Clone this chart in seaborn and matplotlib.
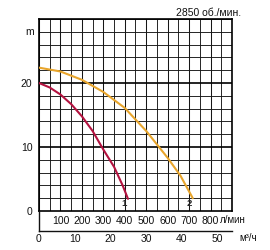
import matplotlib
matplotlib.use("Agg")
import matplotlib.pyplot as plt
import seaborn as sns
import pandas as pd
import numpy as np

sns.set_style("white")
plt.rcParams['font.family'] = ['Liberation Sans', 'DejaVu Sans']

# data (flow in l/min, head in m)
flow_1 = [0, 50, 100, 150, 200, 250, 300, 350, 390, 415]
head_1 = [20.0, 19.3, 18.2, 16.7, 14.8, 12.5, 9.6, 6.9, 4.0, 1.9]
flow_2 = [0, 100, 200, 300, 400, 500, 600, 660, 717]
head_2 = [22.4, 21.8, 20.5, 18.6, 16.1, 12.5, 8.3, 5.5, 2.0]
lpm_ticks = [100, 200, 300, 400, 500, 600, 700, 800]
m3h_ticks = [0, 10, 20, 30, 40, 50]
y_ticks = [0, 10, 20]
title = "2850 об./мин."

df = pd.concat([
    pd.DataFrame({"flow": flow_1, "head": head_1, "curve": "1"}),
    pd.DataFrame({"flow": flow_2, "head": head_2, "curve": "2"}),
])

FS = 7.5
fig = plt.figure(figsize=(2.7, 2.5), dpi=100)
W, H = 270, 250
ax = fig.add_axes([39 / W, (H - 211) / H, 193 / W, 192 / H])

ax.set_xlim(0, 900)
ax.set_ylim(0, 30)
ax.set_xticks(np.arange(0, 901, 100))
ax.set_xticks(np.arange(0, 901, 50), minor=True)
ax.set_yticks(np.arange(0, 31, 2), minor=True)
ax.set_yticks(y_ticks)
ax.set_yticklabels([str(v) for v in y_ticks])
ax.set_xticklabels([str(v) if v in lpm_ticks else "" for v in range(0, 901, 100)])
ax.grid(which="minor", color="#161616", lw=0.65)
ax.grid(which="major", axis="x", color="#161616", lw=0.75)
for v in [10, 20]:
    ax.axhline(v, color="#000000", lw=1.2, zorder=1)
ax.tick_params(axis="both", which="both", length=0, labelsize=FS, colors="#111111")
ax.tick_params(axis="x", pad=3.5)
ax.tick_params(axis="y", pad=4.8)
for s in ax.spines.values():
    s.set_color("#000000")
    s.set_linewidth(1.2)

sns.lineplot(data=df, x="flow", y="head", hue="curve",
             palette={"1": "#b3123f", "2": "#e8a52c"}, lw=1.5,
             legend=False, ax=ax, zorder=3, sort=False)
ax.set_xlabel("")
ax.set_ylabel("")

ax.text(-0.024, 28, "m", transform=ax.get_yaxis_transform(), fontsize=FS,
        ha="right", va="center", color="#111111")
ax.text(flow_1[-1] - 18, 1.2, "1", fontsize=6.8, fontweight="bold", ha="center", va="center")
ax.text(flow_2[-1] - 14, 1.2, "2", fontsize=6.8, fontweight="bold", ha="center", va="center")
ax.text(0.94, -0.047, "л/мин", transform=ax.transAxes, fontsize=7, ha="left", va="center",
        color="#111111")
ax.text(1.045, 1.031, title, transform=ax.transAxes, fontsize=FS, ha="right", va="center",
        color="#111111")

ax2 = fig.add_axes([39 / W, (H - 230.5) / H, 193 / W, 19.5 / H])
ax2.set_facecolor("none")
ax2.set_xlim(0, 900 * 60 / 1000)
ax2.set_ylim(0, 1)
ax2.set_xticks(m3h_ticks)
ax2.set_yticks([])
for k in ["top", "right"]:
    ax2.spines[k].set_visible(False)
for k in ["left", "bottom"]:
    ax2.spines[k].set_color("#111111")
    ax2.spines[k].set_linewidth(1.0)
ax2.tick_params(axis="x", length=0, labelsize=FS, pad=2.5, colors="#111111")
ax2.text(1.04, -0.4, "м³/ч", transform=ax2.transAxes, fontsize=7, ha="left", va="center",
         color="#111111")

fig.savefig("out.png", dpi=100)
